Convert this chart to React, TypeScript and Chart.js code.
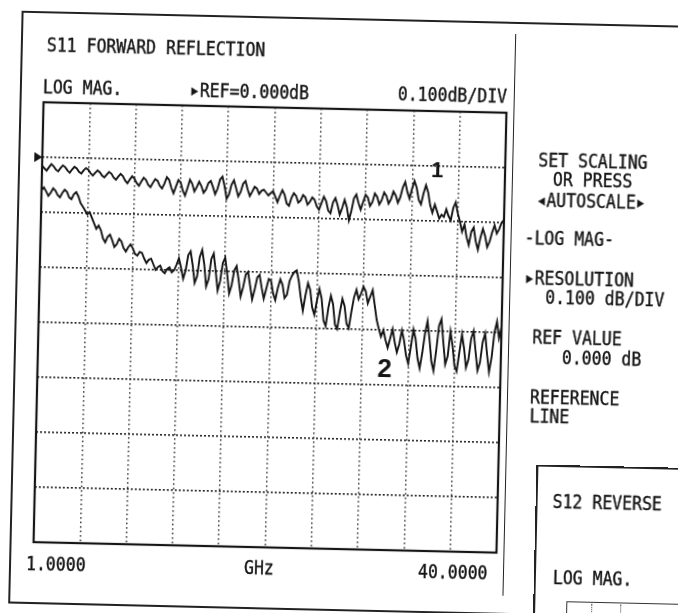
import React, { useEffect, useRef } from "react";
import { Chart, registerables } from "chart.js";

Chart.register(...registerables);

// ---- sweep / axis settings ----
const START_GHZ = 1.0;
const STOP_GHZ = 40.0;
const X_DIVISIONS = 10;
const REF_DB = 0.0;
const DB_PER_DIV = 0.1;
const DIVS_ABOVE_REF = 1;
const DIVS_BELOW_REF = 7;

// ---- traces (dB), 201-point sweep ----
const TRACE_1 = [
  -0.015, -0.020, -0.024, -0.018, -0.012, -0.016, -0.022, -0.025, -0.019, -0.014,
  -0.017, -0.023, -0.027, -0.021, -0.016, -0.019, -0.025, -0.028, -0.022, -0.018,
  -0.021, -0.027, -0.031, -0.026, -0.022, -0.025, -0.031, -0.034, -0.029, -0.024,
  -0.027, -0.034, -0.038, -0.032, -0.027, -0.031, -0.039, -0.044, -0.037, -0.031,
  -0.035, -0.043, -0.048, -0.040, -0.033, -0.037, -0.046, -0.050, -0.042, -0.035,
  -0.038, -0.047, -0.052, -0.043, -0.031, -0.036, -0.050, -0.060, -0.048, -0.036,
  -0.040, -0.055, -0.064, -0.050, -0.035, -0.042, -0.056, -0.048, -0.038, -0.046,
  -0.058, -0.052, -0.040, -0.036, -0.047, -0.060, -0.050, -0.033, -0.028, -0.045,
  -0.068, -0.060, -0.042, -0.034, -0.048, -0.063, -0.055, -0.040, -0.035, -0.050,
  -0.062, -0.054, -0.045, -0.048, -0.058, -0.052, -0.050, -0.055, -0.060, -0.056,
  -0.052, -0.062, -0.072, -0.060, -0.050, -0.058, -0.074, -0.078, -0.064, -0.055,
  -0.060, -0.072, -0.068, -0.058, -0.062, -0.075, -0.070, -0.062, -0.066, -0.078,
  -0.084, -0.072, -0.060, -0.068, -0.085, -0.090, -0.070, -0.062, -0.075, -0.092,
  -0.080, -0.065, -0.078, -0.102, -0.085, -0.062, -0.055, -0.070, -0.082, -0.068,
  -0.055, -0.060, -0.075, -0.068, -0.052, -0.058, -0.072, -0.064, -0.050, -0.056,
  -0.070, -0.062, -0.048, -0.055, -0.068, -0.058, -0.040, -0.030, -0.048, -0.060,
  -0.042, -0.028, -0.040, -0.062, -0.070, -0.050, -0.035, -0.048, -0.072, -0.085,
  -0.070, -0.082, -0.095, -0.088, -0.092, -0.078, -0.090, -0.098, -0.075, -0.065,
  -0.085, -0.100, -0.118, -0.105, -0.128, -0.142, -0.118, -0.110, -0.135, -0.150,
  -0.128, -0.112, -0.125, -0.145, -0.135, -0.118, -0.105, -0.120, -0.112, -0.100,
  -0.095,
];

const TRACE_2 = [
  -0.060, -0.055, -0.062, -0.070, -0.064, -0.056, -0.060, -0.068, -0.072, -0.064,
  -0.058, -0.062, -0.072, -0.075, -0.066, -0.062, -0.070, -0.082, -0.088, -0.095,
  -0.102, -0.098, -0.108, -0.118, -0.128, -0.122, -0.130, -0.145, -0.152, -0.142,
  -0.138, -0.148, -0.160, -0.155, -0.145, -0.150, -0.162, -0.168, -0.160, -0.155,
  -0.162, -0.172, -0.175, -0.168, -0.170, -0.180, -0.188, -0.182, -0.180, -0.190,
  -0.200, -0.195, -0.192, -0.202, -0.206, -0.198, -0.195, -0.204, -0.200, -0.190,
  -0.178, -0.195, -0.215, -0.200, -0.172, -0.165, -0.190, -0.222, -0.210, -0.175,
  -0.162, -0.188, -0.228, -0.215, -0.178, -0.168, -0.200, -0.235, -0.218, -0.185,
  -0.175, -0.205, -0.240, -0.225, -0.198, -0.190, -0.215, -0.245, -0.228, -0.205,
  -0.200, -0.225, -0.250, -0.232, -0.210, -0.205, -0.228, -0.248, -0.230, -0.212,
  -0.215, -0.238, -0.250, -0.228, -0.212, -0.222, -0.246, -0.240, -0.215, -0.205,
  -0.198, -0.195, -0.215, -0.245, -0.268, -0.240, -0.218, -0.230, -0.262, -0.275,
  -0.250, -0.228, -0.245, -0.285, -0.295, -0.262, -0.240, -0.255, -0.292, -0.300,
  -0.270, -0.245, -0.258, -0.290, -0.298, -0.268, -0.242, -0.228, -0.245, -0.235,
  -0.222, -0.230, -0.252, -0.240, -0.228, -0.255, -0.282, -0.298, -0.312, -0.300,
  -0.318, -0.332, -0.315, -0.298, -0.322, -0.340, -0.325, -0.300, -0.318, -0.345,
  -0.360, -0.330, -0.298, -0.315, -0.350, -0.368, -0.340, -0.305, -0.282, -0.315,
  -0.355, -0.372, -0.335, -0.290, -0.278, -0.320, -0.360, -0.345, -0.300, -0.325,
  -0.362, -0.372, -0.338, -0.305, -0.330, -0.365, -0.350, -0.312, -0.298, -0.335,
  -0.370, -0.355, -0.318, -0.302, -0.340, -0.372, -0.345, -0.300, -0.280, -0.310,
  -0.290,
];

const TRACE_LABELS = ["1", "2"];
const FREQ_TICK_LABELS = ["1.0000", "40.0000"];
const FREQ_UNIT = "GHz";

const MONO = '"DejaVu Sans Mono", "Liberation Mono", monospace';
const INK = "#151515";

const toPoints = (vals: number[]) =>
  vals.map((v, i) => ({
    x: START_GHZ + (i * (STOP_GHZ - START_GHZ)) / (vals.length - 1),
    y: v,
  }));

const framePlugin = {
  id: "plotFrame",
  afterDraw(chart: any) {
    const { ctx, chartArea } = chart;
    const { left, right, top, bottom } = chartArea;
    ctx.save();
    ctx.strokeStyle = INK;
    ctx.lineWidth = 2.2;
    ctx.setLineDash([]);
    ctx.strokeRect(left, top, right - left, bottom - top);
    // reference-line marker
    const yRef = chart.scales.y.getPixelForValue(REF_DB);
    ctx.fillStyle = INK;
    ctx.beginPath();
    ctx.moveTo(left - 8, yRef - 5);
    ctx.lineTo(left - 8, yRef + 5);
    ctx.lineTo(left, yRef);
    ctx.closePath();
    ctx.fill();
    ctx.restore();
  },
};

function Txt(props: { x: number; y: number; s: string; size?: number; weight?: number; family?: string; center?: boolean }) {
  const { x, y, s, size = 16.5, weight = 400, family = MONO, center = false } = props;
  return (
    <div
      style={{
        position: "absolute",
        left: x,
        top: center ? y : y - 7.7,
        fontFamily: family,
        fontSize: size,
        fontWeight: weight,
        lineHeight: center ? 1 : "16px",
        whiteSpace: "pre",
        color: INK,
        WebkitTextStroke: center ? undefined : "0.35px " + INK,
        transform: center ? "translate(-50%, -50%)" : "scaleY(1.2)",
        transformOrigin: center ? undefined : "0px 7.7px",
      }}
    >
      {s}
    </div>
  );
}

export default function App() {
  const canvasRef = useRef<HTMLCanvasElement | null>(null);

  useEffect(() => {
    if (!canvasRef.current) return;
    const chart = new Chart(canvasRef.current, {
      type: "line",
      data: {
        datasets: [
          {
            label: TRACE_LABELS[0],
            data: toPoints(TRACE_1),
            borderColor: INK,
            borderWidth: 1.9,
            pointRadius: 0,
            tension: 0,
            fill: false,
          },
          {
            label: TRACE_LABELS[1],
            data: toPoints(TRACE_2),
            borderColor: INK,
            borderWidth: 1.9,
            pointRadius: 0,
            tension: 0,
            fill: false,
          },
        ],
      },
      options: {
        animation: false,
        responsive: false,
        maintainAspectRatio: false,
        parsing: false as any,
        layout: { padding: { left: 39, top: 109, right: 176, bottom: 64 } },
        plugins: {
          legend: { display: false },
          tooltip: { enabled: false },
        },
        scales: {
          x: {
            type: "linear",
            min: START_GHZ,
            max: STOP_GHZ,
            ticks: { display: false },
            grid: { color: "#2e2e2e", lineWidth: 1.5, drawTicks: false },
            border: { display: false, dash: [1.5, 3] },
            afterBuildTicks: (s: any) => {
              const step = (STOP_GHZ - START_GHZ) / X_DIVISIONS;
              s.ticks = Array.from({ length: X_DIVISIONS + 1 }, (_, k) => ({ value: START_GHZ + k * step }));
            },
            afterFit: (s: any) => {
              s.height = 0;
            },
          },
          y: {
            type: "linear",
            min: REF_DB - DIVS_BELOW_REF * DB_PER_DIV,
            max: REF_DB + DIVS_ABOVE_REF * DB_PER_DIV,
            ticks: { display: false },
            grid: { color: "#222", lineWidth: 1.6, drawTicks: false },
            border: { display: false, dash: [2, 2] },
            afterBuildTicks: (s: any) => {
              const n = DIVS_ABOVE_REF + DIVS_BELOW_REF;
              s.ticks = Array.from({ length: n + 1 }, (_, k) => ({
                value: REF_DB - DIVS_BELOW_REF * DB_PER_DIV + k * DB_PER_DIV,
              }));
            },
            afterFit: (s: any) => {
              s.width = 0;
            },
          },
        },
      },
      plugins: [framePlugin],
    });
    return () => chart.destroy();
  }, []);

  return (
    <div style={{ position: "absolute", left: 0, top: 0, width: 678, height: 613, overflow: "hidden", background: "#fff" }}>
      <div
        style={{
          position: "absolute",
          left: 0,
          top: 0,
          width: 678,
          height: 613,
          transform: "rotate(1.3deg)",
          transformOrigin: "339px 306px",
        }}
      >
        {/* outer sheet frame */}
        <div style={{ position: "absolute", left: 15, top: 18, width: 720, height: 589, border: "2px solid #222" }} />
        {/* separator between plot and softkeys */}
        <div style={{ position: "absolute", left: 509, top: 30, width: 0, height: 562, borderLeft: "1.6px solid #222" }} />

        <canvas ref={canvasRef} width={678} height={613} style={{ position: "absolute", left: 0, top: 0, width: 678, height: 613 }} />

        {/* header */}
        <Txt x={41} y={51.5} s="S11 FORWARD REFLECTION" />
        <Txt x={38} y={94} s="LOG MAG." />
        <Txt x={185} y={93.5} s={"\u25B8REF=0.000dB"} />
        <Txt x={393} y={93} s="0.100dB/DIV" />

        {/* trace labels */}
        <Txt x={434} y={168} s={TRACE_LABELS[0]} size={22} weight={700} family='"Liberation Sans", Arial, sans-serif' center />
        <Txt x={386} y={367} s={TRACE_LABELS[1]} size={26} weight={700} family='"Liberation Sans", Arial, sans-serif' center />

        {/* frequency axis */}
        <Txt x={32} y={571} s={FREQ_TICK_LABELS[0]} />
        <Txt x={250} y={570} s={FREQ_UNIT} />
        <Txt x={424} y={570} s={FREQ_TICK_LABELS[1]} />

        {/* softkey panel */}
        <Txt x={535} y={155.5} s="SET SCALING" />
        <Txt x={550} y={175} s="OR PRESS" />
        <Txt x={534} y={195.5} s={"\u25C2AUTOSCALE\u25B8"} />
        <Txt x={523} y={234} s="-LOG MAG-" />
        <Txt x={524} y={274} s={"\u25B8RESOLUTION"} />
        <Txt x={545} y={292.5} s="0.100 dB/DIV" />
        <Txt x={533} y={332.5} s="REF VALUE" />
        <Txt x={563} y={353} s="0.000 dB" />
        <Txt x={532} y={392.5} s="REFERENCE" />
        <Txt x={532} y={411.5} s="LINE" />

        {/* second (overlapping) sheet */}
        <div style={{ position: "absolute", left: 540, top: 460, width: 220, height: 220, border: "2px solid #222", background: "#fff" }} />
        <Txt x={557} y={497} s="S12 REVERSE" />
        <Txt x={559} y={573} s="LOG MAG." />
        <div style={{ position: "absolute", left: 573, top: 596, width: 200, height: 60, borderLeft: "1.5px solid #333", borderTop: "1.5px solid #333" }} />
        <div style={{ position: "absolute", left: 598, top: 598, width: 0, height: 40, borderLeft: "1.3px dotted #444" }} />
        <div style={{ position: "absolute", left: 627, top: 598, width: 0, height: 40, borderLeft: "1.3px dotted #444" }} />
      </div>
    </div>
  );
}
